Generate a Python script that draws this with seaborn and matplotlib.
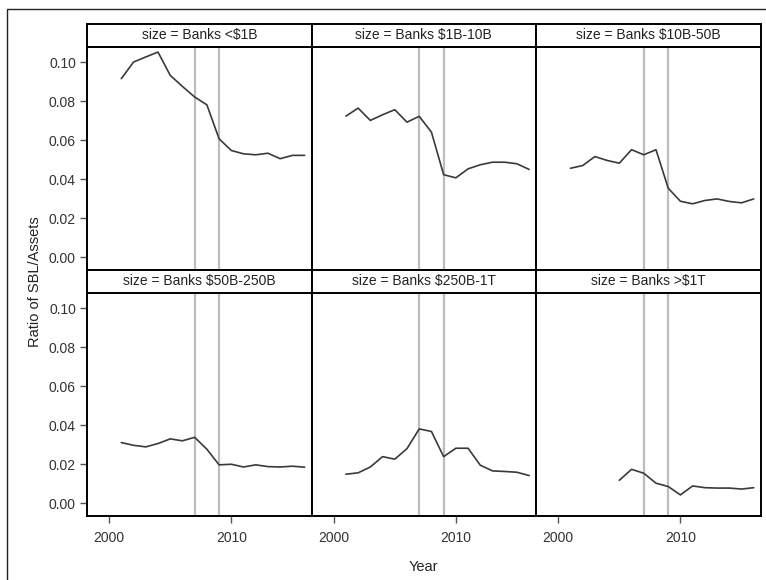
import numpy as np
import pandas as pd
import matplotlib
matplotlib.use("Agg")
import matplotlib.pyplot as plt
from matplotlib.patches import Rectangle
import seaborn as sns

panels = ["Banks <$1B", "Banks $1B-10B", "Banks $10B-50B",
          "Banks $50B-250B", "Banks $250B-1T", "Banks >$1T"]

years_full = list(range(2001, 2017))
years_1t = list(range(2005, 2017))

ratio_lt1b = [0.0915, 0.1000, 0.1026, 0.1051, 0.0932, 0.0875, 0.0821, 0.0781,
              0.0607, 0.0547, 0.0530, 0.0525, 0.0533, 0.0505, 0.0522, 0.0522]
ratio_1b_10b = [0.0723, 0.0764, 0.0701, 0.0730, 0.0756, 0.0692, 0.0722, 0.0641,
                0.0423, 0.0407, 0.0453, 0.0474, 0.0487, 0.0487, 0.0479, 0.0450]
ratio_10b_50b = [0.0456, 0.0470, 0.0516, 0.0496, 0.0482, 0.0551, 0.0525, 0.0551,
                 0.0354, 0.0287, 0.0274, 0.0291, 0.0299, 0.0286, 0.0279, 0.0299]
ratio_50b_250b = [0.0311, 0.0297, 0.0289, 0.0306, 0.0330, 0.0320, 0.0338, 0.0277,
                  0.0197, 0.0200, 0.0186, 0.0197, 0.0188, 0.0186, 0.0190, 0.0185]
ratio_250b_1t = [0.0149, 0.0156, 0.0186, 0.0239, 0.0226, 0.0280, 0.0381, 0.0368,
                 0.0239, 0.0282, 0.0282, 0.0195, 0.0166, 0.0163, 0.0159, 0.0142]
ratio_gt1t = [0.0118, 0.0174, 0.0154, 0.0103, 0.0086, 0.0043, 0.0089, 0.0080,
              0.0078, 0.0078, 0.0073, 0.0080]

ref_years = [2007, 2009]
y_ticks = [0.00, 0.02, 0.04, 0.06, 0.08, 0.10]
x_ticks = [2000, 2010]

series = [ratio_lt1b, ratio_1b_10b, ratio_10b_50b, ratio_50b_250b, ratio_250b_1t, ratio_gt1t]
frames = []
for name, vals in zip(panels, series):
    yrs = years_1t if len(vals) == len(years_1t) else years_full
    frames.append(pd.DataFrame({"size": name, "Year": yrs, "ratio": vals}))
df = pd.concat(frames, ignore_index=True)

sns.set_theme(style="white")
plt.rcParams["font.family"] = ["Liberation Sans", "DejaVu Sans"]

g = sns.FacetGrid(df, col="size", col_wrap=3, col_order=panels,
                  sharex=True, sharey=True, height=2.5, aspect=1.0)
g.map_dataframe(sns.lineplot, x="Year", y="ratio", color="#3a3a3a", linewidth=1.2)
fig = g.figure
fig.set_size_inches(7.66, 5.8)
fig.set_dpi(100)

W, H = 766.0, 580.0
left_px = 87.0
panel_w = (760.7 - 87.0) / 3
rows_top = [47.0, 293.0]
panel_h = 223.0
strip_h = 23.0

axes = g.axes.flatten()
for i, ax in enumerate(axes):
    r, c = divmod(i, 3)
    x0 = left_px + c * panel_w
    top = rows_top[r]
    ax.set_position([x0 / W, 1 - (top + panel_h) / H, panel_w / W, panel_h / H])
    ax.set_title("")
    for yr in ref_years:
        ax.axvline(yr, color="#bdbdbd", linewidth=1.6, zorder=1)
    ax.set_xlim(1998.19, 2016.57)
    ax.set_ylim(-0.0065, 0.1077)
    ax.set_xticks(x_ticks)
    ax.set_yticks(y_ticks)
    ax.set_xticklabels([str(t) for t in x_ticks])
    ax.set_yticklabels([f"{t:.2f}" for t in y_ticks])
    ax.set_xlabel("")
    ax.set_ylabel("")
    for s in ax.spines.values():
        s.set_visible(True)
        s.set_color("black")
        s.set_linewidth(1.4)
    ax.tick_params(axis="both", which="both", direction="out", length=5, width=1.0,
                   color="#555555", labelcolor="#333333", labelsize=10, pad=3)
    ax.tick_params(axis="x", pad=6)
    ax.tick_params(axis="y", left=(c == 0), labelleft=(c == 0))
    ax.tick_params(axis="x", bottom=(r == 1), labelbottom=(r == 1))
    sh = strip_h / panel_h
    ax.add_patch(Rectangle((0, 1), 1, sh, transform=ax.transAxes, facecolor="white",
                           edgecolor="black", linewidth=1.4, clip_on=False, zorder=5))
    ax.text(0.5, 1 + sh / 2, f"size = {panels[i]}", transform=ax.transAxes,
            ha="center", va="center", fontsize=10, color="#222222", zorder=6)

fig.text(35 / W, 1 - ((47 + 516) / 2) / H, "Ratio of SBL/Assets", rotation=90,
         ha="center", va="center", fontsize=10.5, color="#222222")
fig.text((87 + 760.7) / 2 / W, 1 - 567 / H, "Year", ha="center", va="center",
         fontsize=10.5, color="#222222")

fig.patches.append(Rectangle((7 / W, -0.05), 1.1, 1 - 9 / H + 0.05, transform=fig.transFigure,
                             facecolor="none", edgecolor="#222222", linewidth=1.0))

fig.savefig("out.png", dpi=100)
